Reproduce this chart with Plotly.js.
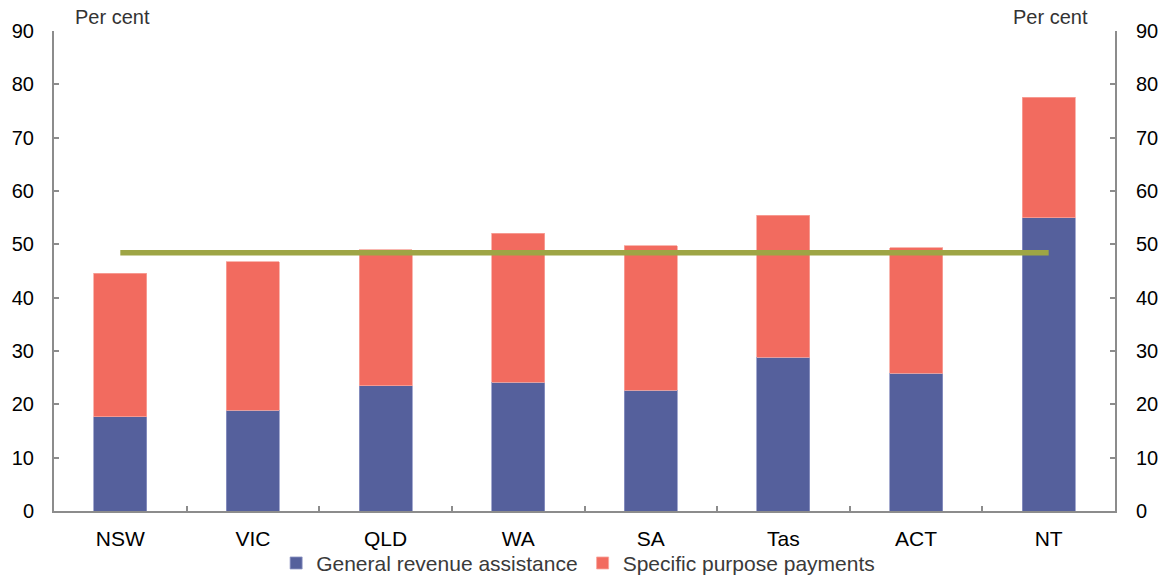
<!DOCTYPE html>
<html>
<head>
<meta charset="utf-8">
<script src="https://cdn.plot.ly/plotly-3.0.1.min.js"></script>
<style>
  html, body { margin: 0; padding: 0; background: #ffffff; }
  #chart { width: 1164px; height: 578px; }
</style>
</head>
<body>
<div id="chart"></div>
<script>
// States and territories
const states = ['NSW', 'VIC', 'QLD', 'WA', 'SA', 'Tas', 'ACT', 'NT'];

// Per cent shares, stacked
const generalRevenue = [17.7, 18.9, 23.5, 24.1, 22.6, 28.8, 25.8, 55.0];
const specificPurpose = [26.9, 27.8, 25.5, 28.0, 27.1, 26.7, 23.6, 22.6];

// Average level drawn across all states
const average = [48.4, 48.4, 48.4, 48.4, 48.4, 48.4, 48.4, 48.4];

const yTicks = [0, 10, 20, 30, 40, 50, 60, 70, 80, 90];

const FONT = 'Arial, "Liberation Sans", sans-serif';
const AXIS_GREY = '#8c8c8c';

const traces = [
  {
    type: 'bar',
    name: 'General revenue assistance',
    x: states,
    y: generalRevenue,
    width: 0.4,
    marker: { color: '#55609c', line: { color: '#8e96c4', width: 0.8 } },
    hoverinfo: 'x+y+name'
  },
  {
    type: 'bar',
    name: 'Specific purpose payments',
    x: states,
    y: specificPurpose,
    width: 0.4,
    marker: { color: '#f26b5f', line: { color: '#f7a59c', width: 0.8 } },
    hoverinfo: 'x+y+name'
  },
  {
    type: 'scatter',
    mode: 'lines',
    name: 'Average',
    x: states,
    y: average,
    xaxis: 'x2',
    yaxis: 'y2',
    showlegend: false,
    line: { color: '#9ea545', width: 5.5 }
  }
];

const yCommon = {
  range: [0, 90],
  tickvals: yTicks,
  ticks: 'inside',
  ticklen: 5,
  tickwidth: 2,
  tickcolor: AXIS_GREY,
  showline: true,
  linecolor: AXIS_GREY,
  linewidth: 2,
  showgrid: false,
  zeroline: false,
  tickfont: { family: FONT, size: 20, color: '#000000' },
  fixedrange: true
};

const layout = {
  width: 1164,
  height: 578,
  margin: { l: 54, r: 49, t: 31, b: 67, pad: 0, autoexpand: false },
  paper_bgcolor: '#ffffff',
  plot_bgcolor: '#ffffff',
  barmode: 'stack',
  font: { family: FONT, size: 20, color: '#000000' },
  showlegend: true,
  legend: {
    orientation: 'h',
    x: 0.494,
    xanchor: 'center',
    y: -0.109,
    yanchor: 'middle',
    font: { family: FONT, size: 21, color: '#3a3a3a' },
    itemwidth: 30,
    traceorder: 'normal',
    bgcolor: 'rgba(0,0,0,0)'
  },
  // category labels; the outward ticks are invisible and only set the label gap
  xaxis: {
    type: 'category',
    categoryorder: 'array',
    categoryarray: states,
    range: [-0.5, 7.5],
    ticks: 'outside',
    ticklen: 8,
    tickcolor: 'rgba(0,0,0,0)',
    showline: true,
    linecolor: AXIS_GREY,
    linewidth: 2,
    showgrid: false,
    zeroline: false,
    tickfont: { family: FONT, size: 21, color: '#000000' },
    fixedrange: true
  },
  // inward boundary ticks between the categories
  xaxis2: {
    type: 'category',
    categoryorder: 'array',
    categoryarray: states,
    range: [-0.5, 7.5],
    overlaying: 'x',
    side: 'bottom',
    anchor: 'y2',
    tickson: 'boundaries',
    ticks: 'inside',
    ticklen: 5,
    tickwidth: 2,
    tickcolor: AXIS_GREY,
    showticklabels: false,
    showline: false,
    showgrid: false,
    zeroline: false,
    fixedrange: true
  },
  yaxis: Object.assign({}, yCommon, { side: 'left', ticklabelstandoff: 14 }),
  yaxis2: Object.assign({}, yCommon, { side: 'right', overlaying: 'y', anchor: 'x', ticklabelstandoff: 15 }),
  annotations: [
    {
      text: 'Per cent', xref: 'paper', yref: 'paper',
      x: 0.0176, y: 1.0, xanchor: 'left', yanchor: 'middle', yshift: 14,
      showarrow: false, font: { family: FONT, size: 20, color: '#333333' }
    },
    {
      text: 'Per cent', xref: 'paper', yref: 'paper',
      x: 0.976, y: 1.0, xanchor: 'right', yanchor: 'middle', yshift: 14,
      showarrow: false, font: { family: FONT, size: 20, color: '#333333' }
    }
  ]
};

Plotly.newPlot('chart', traces, layout, { displayModeBar: false, staticPlot: true });
</script>
</body>
</html>
